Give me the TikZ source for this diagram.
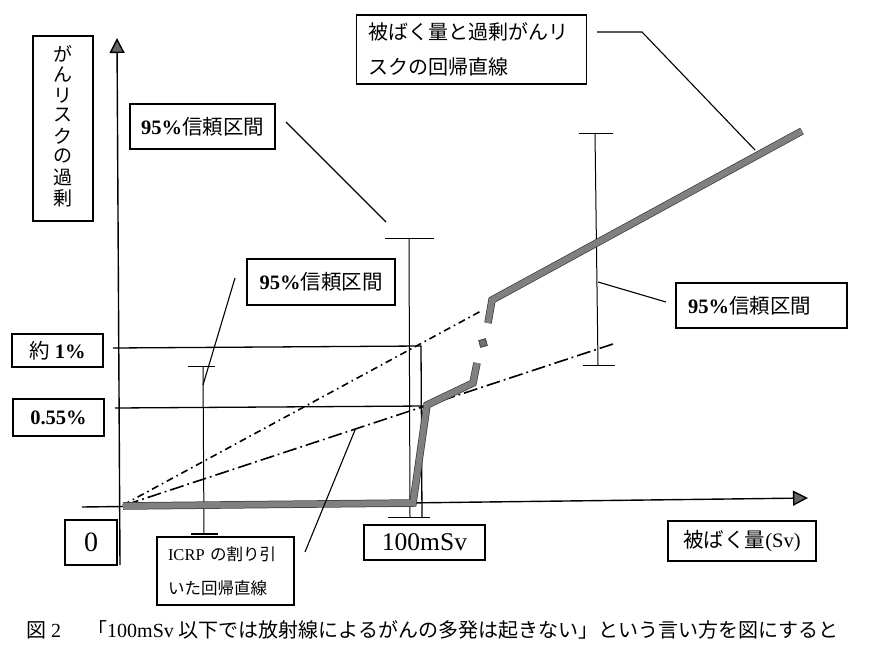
\documentclass[tikz,border=0pt]{standalone}
\usepackage{fontspec}
\setmainfont{Liberation Serif}
\newfontfamily\jp{Noto Sans CJK JP}
\usetikzlibrary{arrows.meta}
\newcommand{\J}[1]{{\jp #1}}
\newcommand{\fsz}[2]{\fontsize{#1}{#2}\selectfont}
\begin{document}
\begin{tikzpicture}[x=1pt,y=-1pt,
  box/.style={draw=black, line width=1.3pt, inner sep=0pt, align=center},
  thin/.style={draw=black, line width=1pt},
  leader/.style={draw=black, line width=1.1pt},
  axis/.style={draw=black, line width=1.4pt, -{Triangle[length=15pt,width=15pt,fill=black!60]}},
  grayline/.style={line width=6pt, draw=black!50, line join=miter, line cap=butt,
     preaction={draw=black!75, line width=7.5pt}},
  ddot/.style={draw=black, line width=1.6pt, dash pattern=on 7pt off 4pt on 1.6pt off 4pt},
  ldot/.style={draw=black, line width=1.6pt, dash pattern=on 14pt off 4pt on 1.8pt off 4pt},
]
\useasboundingbox (0,0) rectangle (878,653);
\fill[white] (0,0) rectangle (878,653);

% axes
\coordinate (ybot) at (120,565);
\coordinate (ytop) at (117,38);
\coordinate (xl) at (82,507);
\coordinate (xr) at (808,498);
\draw[axis] (ybot) -- (ytop);
\draw[axis] (xl) -- (xr);

% 1% and 0.55% guide lines
\coordinate (g1a) at (113,348);
\coordinate (g1b) at (421,346);
\coordinate (g1c) at (422,518);
\coordinate (g2a) at (115,408);
\coordinate (g2b) at (426,406);
\draw[thin, line width=1.3pt] (g1a) -- (g1b) -- (g1c);
\draw[thin, line width=1.3pt] (g2a) -- (g2b);

% regression lines (dash-dot)
\coordinate (o1) at (123,505);
\coordinate (u1) at (481,311);
\coordinate (o2) at (125,505);
\coordinate (l2) at (613,344);
\draw[ddot] (o1) -- (u1);
\draw[ldot] (o2) -- (l2);

% error bars
\draw[thin] (203,366) -- (204,534);
\draw[thin] (188,366) -- (215,366);
\draw[thin, line width=2pt] (191,534) -- (218,534);

\draw[thin] (409,238) -- (410,517);
\draw[thin] (385,238) -- (434,238);
\draw[thin] (388,517) -- (430,517);

\draw[thin] (595,133) -- (598,365);
\draw[thin] (579,133) -- (613,133);
\draw[thin] (583,365) -- (615,365);

% thick gray line
\coordinate (t0) at (123,506);
\coordinate (t1) at (413,503);
\coordinate (t2) at (427,405);
\coordinate (t3) at (473,383);
\coordinate (t4) at (477,363);
\coordinate (t5) at (488,323);
\coordinate (t6) at (492,300);
\coordinate (t7) at (802,131);
\draw[grayline] (t0) -- (t1) -- (t2) -- (t3) -- (t4);
\draw[grayline] (t5) -- (t6) -- (t7);
\fill[black!55, draw=black!75, line width=0.8pt, rotate around={15:(483,343)}] (479.5,339.5) rectangle (486.5,346.5);

% boxes
\node[box, minimum width=60pt, minimum height=185pt, font=\jp\fsz{19}{19.6}] (vbox) at (63,128.5)
  {\raisebox{9pt}{\begin{tabular}{@{}c@{}}が\\ん\\リ\\ス\\ク\\の\\過\\剰\end{tabular}}};
\node[box, text width=206pt, inner xsep=12pt, align=left, minimum height=69pt, font=\jp\fsz{20}{35}] (regbox) at (471.5,49.5)
  {被ばく量と過剰がんリ\\スクの回帰直線};
\node[box, minimum width=145pt, minimum height=45pt, font=\fsz{20.5}{22}] (ci1) at (202.5,126.5)
  {\textbf{95\%}\J{信頼区間}};
\node[box, minimum width=148pt, minimum height=46pt, font=\fsz{20.5}{22}] (ci2) at (321,282)
  {\textbf{95\%}\J{信頼区間}};
\node[box, text width=147pt, inner xsep=12pt, align=left, minimum height=45pt, font=\fsz{20.5}{22}] (ci3) at (761.5,305.5)
  {\textbf{95\%}\J{信頼区間}};
\node[box, minimum width=91pt, minimum height=33pt, font=\fsz{20.5}{22}] (p1) at (57.5,350.5)
  {\J{約} \textbf{1\%}};
\node[box, minimum width=91pt, minimum height=37pt, font=\fsz{20.5}{22}] (p055) at (58.5,417.5)
  {\textbf{0.55\%}};
\node[box, minimum width=52pt, minimum height=45pt, font=\fsz{28}{30}] (zero) at (91,542.5)
  {0};
\node[box, text width=115pt, inner xsep=11pt, align=left, minimum height=68pt, font=\fsz{16.5}{34}] (icrp) at (225.5,571)
  {ICRP \J{の割り引}\\\J{いた回帰直線}};
\node[box, minimum width=121pt, minimum height=35pt, font=\fsz{25.5}{27}] (msv) at (424.5,542.5)
  {100mSv};
\node[box, minimum width=148pt, minimum height=40pt, font=\fsz{20.5}{22}] (xlab) at (742,541)
  {\J{被ばく量}(Sv)};

% leaders
\coordinate (r0) at (597,32);
\coordinate (r1) at (642,32);
\coordinate (r2) at (755,150);
\draw[leader] (r0) -- (r1) -- (r2);
\coordinate (c1a) at (286,122);
\coordinate (c1b) at (386,222);
\draw[leader] (c1a) -- (c1b);
\coordinate (c2a) at (235,278);
\coordinate (c2b) at (203,385);
\draw[leader] (c2a) -- (c2b);
\coordinate (c3a) at (666,302);
\coordinate (c3b) at (598,282);
\draw[leader] (c3a) -- (c3b);
\coordinate (ia) at (305,552);
\coordinate (ib) at (355,430);
\draw[leader] (ia) -- (ib);

% caption
\node[anchor=west, inner sep=0pt, font=\fsz{20}{22}] (cap) at (26,630)
  {\J{図} 2\hspace{26pt}\J{「}100mSv \J{以下では放射線によるがんの多発は起きない」という言い方を図にすると}};
\end{tikzpicture}
\end{document}
